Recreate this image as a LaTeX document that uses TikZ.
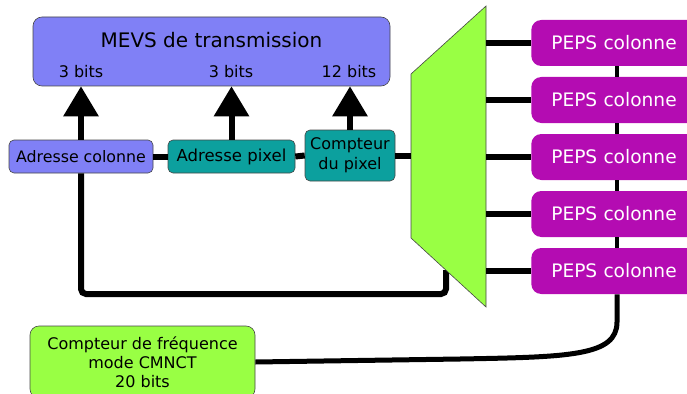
\documentclass[tikz,border=0pt]{standalone}
\usepackage{fontspec}
\setmainfont{DejaVu Sans}
\usetikzlibrary{arrows.meta}
\definecolor{mevsblue}{RGB}{128,128,246}
\definecolor{tealbox}{RGB}{12,160,158}
\definecolor{pepspurple}{RGB}{180,12,178}
\definecolor{limegreen}{RGB}{153,255,68}
\definecolor{edgegray}{RGB}{70,70,70}
\tikzset{
  x=1pt, y=-1pt,
  box/.style={draw=edgegray, line width=0.6pt, rounded corners=5pt, inner sep=0pt, align=center},
  mevsbox/.style={box, fill=mevsblue, rounded corners=9pt, minimum width=357pt, minimum height=69pt},
  addrbox/.style={box, fill=mevsblue, minimum width=144pt, minimum height=33pt, font=\fontsize{15.8}{18}\selectfont},
  pixbox/.style={box, fill=tealbox, minimum width=127pt, minimum height=33pt, font=\fontsize{16.5}{18}\selectfont},
  cntbox/.style={box, fill=tealbox, minimum width=90pt, minimum height=51pt, font=\fontsize{16}{20}\selectfont},
  pepsbox/.style={box, draw=none, fill=pepspurple, rounded corners=10pt, text width=130pt, align=left, inner xsep=20pt, minimum height=46pt, text=white, font=\fontsize{18.6}{22}\selectfont},
  freqbox/.style={box, fill=limegreen, rounded corners=9pt, minimum width=225pt, minimum height=72pt, font=\fontsize{16}{19}\selectfont},
  wire/.style={line width=6pt},
  thinwire/.style={line width=4pt},
  uparrow/.style={line width=6pt, -{Triangle[width=34pt,length=30pt]}},
  bitlabel/.style={font=\fontsize{16}{19}\selectfont, inner sep=0pt},
}
\begin{document}
\begin{tikzpicture}
\useasboundingbox (0,0) rectangle (687,393);
\clip (0,0) rectangle (687,393);

% upper block: transmission shift register
\node[mevsbox] (mevs) at (211.5,51.5) {};
\node[font=\fontsize{20}{24}\selectfont, inner sep=0pt] (title) at (211.5,40) {MEVS de transmission};
\node[bitlabel] (b1) at (81,72) {3 bits};
\node[bitlabel] (b2) at (231,72) {3 bits};
\node[bitlabel] (b3) at (349,72) {12 bits};

% address and pixel counter blocks
\node[addrbox] (adcol) at (81,156.5) {Adresse colonne};
\node[pixbox] (adpix) at (231.5,156.5) {Adresse pixel};
\node[cntbox] (cpix) at (350,155.5) {Compteur\\du pixel};

% multiplexer corners
\coordinate (mtl) at (411,74);
\coordinate (mtr) at (486,6);
\coordinate (mbr) at (486,307);
\coordinate (mbl) at (411,238);
\coordinate (mfb) at (446,270);

% column FIFOs
\foreach \i/\y in {1/43,2/100,3/157,4/214,5/271}{
  \node[pepsbox, anchor=west] (p\i) at (531,\y) {PEPS colonne};
}

% frequency counter
\node[freqbox] (freq) at (142.5,362) {Compteur de fréquence\\mode CMNCT\\20 bits};

% feedback from the multiplexer to the column address
\draw[wire, rounded corners=5pt] (adcol.south) |- (mfb |- 0,294) -- (mfb);

% multiplexer body
\draw[edgegray, line width=0.6pt, fill=limegreen] (mtl) -- (mtr) -- (mbr) -- (mbl) -- cycle;

% arrows into the shift register
\draw[uparrow] (adcol.north) -- (adcol.north |- mevs.south);
\draw[uparrow] (adpix.north) -- (adpix.north |- mevs.south);
\draw[uparrow] (cpix.north) -- (cpix.north |- mevs.south);

% chain of address blocks into the multiplexer
\draw[wire] (adcol.east) -- (adpix.west);
\draw[wire] (adpix.east) -- (cpix.west);
\draw[wire] (cpix.east) -- (mtl |- cpix.east);

% multiplexer outputs to the FIFOs
\foreach \i in {1,...,5}{
  \draw[wire] (mtr |- p\i.west) -- (p\i.west);
}

% FIFO chain
\coordinate (chainx) at (617,0);
\foreach \i/\j in {1/2,2/3,3/4,4/5}{
  \draw[thinwire] (chainx |- p\i.south) -- (chainx |- p\j.north);
}
\coordinate (bend) at (617,322);
\draw[line width=5pt] (chainx |- p5.south) -- (bend) .. controls (617,356) and (570,357) .. (460,359) -- (freq.east);
\end{tikzpicture}
\end{document}
